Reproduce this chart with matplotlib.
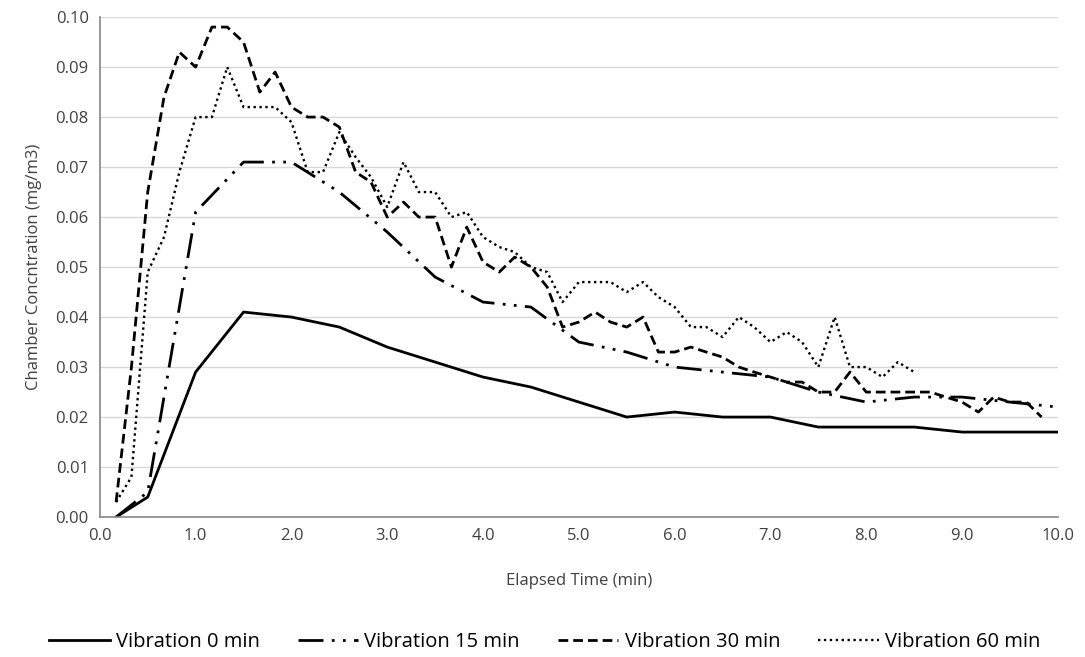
import matplotlib
matplotlib.use("Agg")
import matplotlib.pyplot as plt
from matplotlib.ticker import FormatStrFormatter

plt.rcParams['font.family'] = ['Open Sans', 'DejaVu Sans']
plt.rcParams['font.size'] = 12

# readings (minutes, mg/m3)
t_0 = [0.17, 0.5, 1.0, 1.5, 2.0, 2.5, 3.0, 3.5, 4.0, 4.5, 5.0, 5.5, 6.0, 6.5, 7.0, 7.5, 8.0, 8.5, 9.0, 9.5, 10.0]
c_0 = [0.000, 0.004, 0.029, 0.041, 0.040, 0.038, 0.034, 0.031, 0.028, 0.026, 0.023, 0.020, 0.021, 0.020, 0.020, 0.018, 0.018, 0.018, 0.017, 0.017, 0.017]

t_15 = [0.17, 0.5, 1.0, 1.5, 2.0, 2.5, 3.0, 3.5, 4.0, 4.5, 5.0, 5.5, 6.0, 6.5, 7.0, 7.5, 8.0, 8.5, 9.0, 9.5, 10.0]
c_15 = [0.000, 0.005, 0.061, 0.071, 0.071, 0.065, 0.057, 0.048, 0.043, 0.042, 0.035, 0.033, 0.030, 0.029, 0.028, 0.025, 0.023, 0.024, 0.024, 0.023, 0.022]

t_30 = [0.17, 0.33, 0.5, 0.67, 0.83, 1.0, 1.17, 1.33, 1.5, 1.67, 1.83, 2.0, 2.17, 2.33, 2.5, 2.67,
        2.83, 3.0, 3.17, 3.33, 3.5, 3.67, 3.83, 4.0, 4.17, 4.33, 4.5, 4.67, 4.83, 5.0, 5.17, 5.33,
        5.5, 5.67, 5.83, 6.0, 6.17, 6.33, 6.5, 6.67, 6.83, 7.0, 7.17, 7.33, 7.5, 7.67, 7.83, 8.0,
        8.17, 8.33, 8.5, 8.67, 8.83, 9.0, 9.17, 9.33, 9.5, 9.67, 9.83]
c_30 = [0.003, 0.030, 0.065, 0.084, 0.093, 0.090, 0.098, 0.098, 0.095, 0.085, 0.089, 0.082, 0.080, 0.080, 0.078, 0.069,
        0.067, 0.060, 0.063, 0.060, 0.060, 0.050, 0.058, 0.051, 0.049, 0.052, 0.050, 0.046, 0.038, 0.039, 0.041, 0.039,
        0.038, 0.040, 0.033, 0.033, 0.034, 0.033, 0.032, 0.030, 0.029, 0.028, 0.027, 0.027, 0.025, 0.025, 0.029, 0.025,
        0.025, 0.025, 0.025, 0.025, 0.024, 0.023, 0.021, 0.024, 0.023, 0.023, 0.020]

t_60 = [0.17, 0.33, 0.5, 0.67, 0.83, 1.0, 1.17, 1.33, 1.5, 1.67, 1.83, 2.0, 2.17, 2.33, 2.5, 2.67,
        2.83, 3.0, 3.17, 3.33, 3.5, 3.67, 3.83, 4.0, 4.17, 4.33, 4.5, 4.67, 4.83, 5.0, 5.17, 5.33,
        5.5, 5.67, 5.83, 6.0, 6.17, 6.33, 6.5, 6.67, 6.83, 7.0, 7.17, 7.33, 7.5, 7.67, 7.83, 8.0,
        8.17, 8.33, 8.5]
c_60 = [0.003, 0.008, 0.049, 0.056, 0.069, 0.080, 0.080, 0.090, 0.082, 0.082, 0.082, 0.079, 0.069, 0.069, 0.077, 0.072,
        0.068, 0.062, 0.071, 0.065, 0.065, 0.060, 0.061, 0.056, 0.054, 0.053, 0.050, 0.049, 0.043, 0.047, 0.047, 0.047,
        0.045, 0.047, 0.044, 0.042, 0.038, 0.038, 0.036, 0.040, 0.038, 0.035, 0.037, 0.035, 0.030, 0.040, 0.030, 0.030,
        0.028, 0.031, 0.029]

names = ["Vibration 0 min", "Vibration 15 min", "Vibration 30 min", "Vibration 60 min"]

fig = plt.figure(figsize=(10.85, 6.57), dpi=100)
ax = fig.add_axes([0.092, 0.213, 0.883, 0.761])

ax.plot(t_0, c_0, color='black', lw=2.0, linestyle='-', label=names[0])
ax.plot(t_15, c_15, color='black', lw=2.0, linestyle=(0, (9, 3, 1, 3, 1, 3)), label=names[1])
ax.plot(t_30, c_30, color='black', lw=2.0, linestyle=(0, (3.5, 1.8)), label=names[2])
ax.plot(t_60, c_60, color='black', lw=1.7, linestyle=(0, (1, 1.5)), label=names[3])

ax.set_xlim(0, 10)
ax.set_ylim(0, 0.10)
ax.set_xticks([i * 1.0 for i in range(11)])
ax.set_yticks([i * 0.01 for i in range(11)])
ax.xaxis.set_major_formatter(FormatStrFormatter('%.1f'))
ax.yaxis.set_major_formatter(FormatStrFormatter('%.2f'))
ax.tick_params(length=0, pad=8, colors='#404040')
ax.grid(axis='y', color='#d9d9d9', lw=1.0)
ax.set_axisbelow(True)
for s in ['top', 'right']:
    ax.spines[s].set_visible(False)
for s in ['left', 'bottom']:
    ax.spines[s].set_color('#868686')
    ax.spines[s].set_linewidth(1.2)

ax.set_xlabel("Elapsed Time (min)", color='#404040', labelpad=21)
ax.set_ylabel("Chamber Concntration (mg/m3)", color='#404040', labelpad=10)

fig.legend(loc='lower center', bbox_to_anchor=(0.502, -0.02), ncol=4, frameon=False,
           handlelength=3.0, columnspacing=1.9, handletextpad=0.3, fontsize=14.5)

fig.savefig("out.png", dpi=100)
